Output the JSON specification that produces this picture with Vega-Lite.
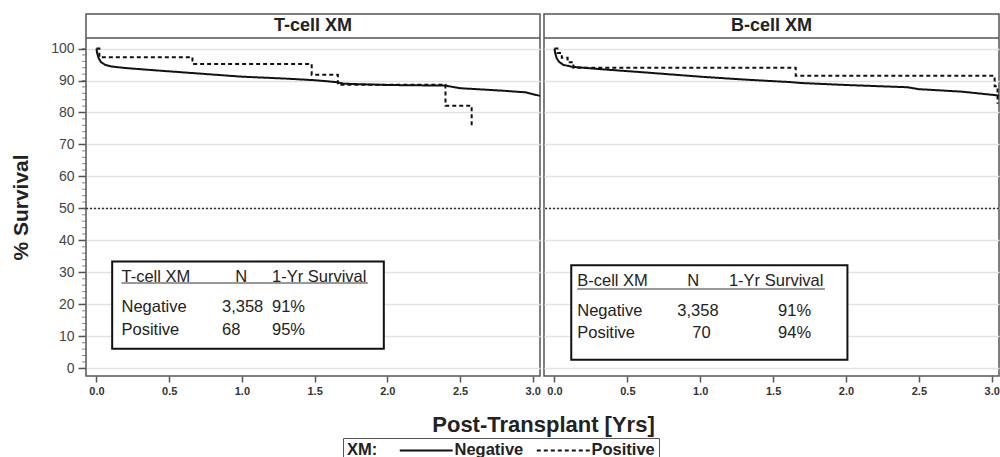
{
  "$schema": "https://vega.github.io/schema/vega-lite/v6.json",
  "background": "white",
  "padding": {"left": 9, "top": 13, "right": 0, "bottom": 0},
  "bounds": "flush",
  "config": {
    "font": "Liberation Sans",
    "view": {"stroke": "#555", "strokeWidth": 1.5},
    "concat": {"spacing": 4},
    "text": {"font": "Liberation Sans", "fontSize": 16.5, "align": "left", "baseline": "middle", "color": "#222"},
    "axis": {"domain": false, "tickColor": "#555", "tickWidth": 1.5, "titleFontWeight": "bold", "titleColor": "#222", "labelOverlap": false},
    "axisX": {"grid": false, "tickSize": 6, "labelFontSize": 11, "labelFontWeight": "bold", "labelColor": "#333", "labelPadding": 3, "titleFontSize": 22, "titleX": 457, "titleY": 48, "titleAlign": "center", "titleBaseline": "middle"},
    "axisY": {"grid": true, "gridColor": "#e3e3e3", "gridWidth": 1.5, "tickSize": 8, "labelFontSize": 14, "labelColor": "#444", "labelPadding": 4, "titleFontSize": 21, "titleX": -65, "titleY": 193, "titleAngle": -90, "titleAlign": "center", "titleBaseline": "middle"}
  },
  "datasets": {
    "panels": [{"panel": "T-cell XM"}, {"panel": "B-cell XM"}],
    "minorTicks": [
      {"v": 0}, {"v": 2}, {"v": 4}, {"v": 6}, {"v": 8}, {"v": 10}, {"v": 12}, {"v": 14}, {"v": 16}, {"v": 18},
      {"v": 20}, {"v": 22}, {"v": 24}, {"v": 26}, {"v": 28}, {"v": 30}, {"v": 32}, {"v": 34}, {"v": 36}, {"v": 38},
      {"v": 40}, {"v": 42}, {"v": 44}, {"v": 46}, {"v": 48}, {"v": 50}, {"v": 52}, {"v": 54}, {"v": 56}, {"v": 58},
      {"v": 60}, {"v": 62}, {"v": 64}, {"v": 66}, {"v": 68}, {"v": 70}, {"v": 72}, {"v": 74}, {"v": 76}, {"v": 78},
      {"v": 80}, {"v": 82}, {"v": 84}, {"v": 86}, {"v": 88}, {"v": 90}, {"v": 92}, {"v": 94}, {"v": 96}, {"v": 98},
      {"v": 100}
    ],
    "cells": [
      {"panel": "T-cell XM", "row": "head", "col": "group", "text": "T-cell XM"},
      {"panel": "T-cell XM", "row": "head", "col": "n", "text": "N"},
      {"panel": "T-cell XM", "row": "head", "col": "surv", "text": "1-Yr Survival"},
      {"panel": "T-cell XM", "row": "Negative", "col": "group", "text": "Negative"},
      {"panel": "T-cell XM", "row": "Negative", "col": "n", "text": "3,358"},
      {"panel": "T-cell XM", "row": "Negative", "col": "surv", "text": "91%"},
      {"panel": "T-cell XM", "row": "Positive", "col": "group", "text": "Positive"},
      {"panel": "T-cell XM", "row": "Positive", "col": "n", "text": "68"},
      {"panel": "T-cell XM", "row": "Positive", "col": "surv", "text": "95%"},
      {"panel": "B-cell XM", "row": "head", "col": "group", "text": "B-cell XM"},
      {"panel": "B-cell XM", "row": "head", "col": "n", "text": "N"},
      {"panel": "B-cell XM", "row": "head", "col": "surv", "text": "1-Yr Survival"},
      {"panel": "B-cell XM", "row": "Negative", "col": "group", "text": "Negative"},
      {"panel": "B-cell XM", "row": "Negative", "col": "n", "text": "3,358"},
      {"panel": "B-cell XM", "row": "Negative", "col": "surv", "text": "91%"},
      {"panel": "B-cell XM", "row": "Positive", "col": "group", "text": "Positive"},
      {"panel": "B-cell XM", "row": "Positive", "col": "n", "text": "70"},
      {"panel": "B-cell XM", "row": "Positive", "col": "surv", "text": "94%"}
    ],
    "curves": [
      {"panel": "T-cell XM", "xm": "Negative", "t": 0, "s": 100},
      {"panel": "T-cell XM", "xm": "Negative", "t": 0.005, "s": 98.5},
      {"panel": "T-cell XM", "xm": "Negative", "t": 0.015, "s": 97},
      {"panel": "T-cell XM", "xm": "Negative", "t": 0.03, "s": 95.8},
      {"panel": "T-cell XM", "xm": "Negative", "t": 0.06, "s": 94.9},
      {"panel": "T-cell XM", "xm": "Negative", "t": 0.1, "s": 94.4},
      {"panel": "T-cell XM", "xm": "Negative", "t": 0.2, "s": 93.9},
      {"panel": "T-cell XM", "xm": "Negative", "t": 0.4, "s": 93.2},
      {"panel": "T-cell XM", "xm": "Negative", "t": 0.7, "s": 92.2},
      {"panel": "T-cell XM", "xm": "Negative", "t": 1.0, "s": 91.2},
      {"panel": "T-cell XM", "xm": "Negative", "t": 1.3, "s": 90.6},
      {"panel": "T-cell XM", "xm": "Negative", "t": 1.5, "s": 90.1},
      {"panel": "T-cell XM", "xm": "Negative", "t": 1.65, "s": 89.5},
      {"panel": "T-cell XM", "xm": "Negative", "t": 1.7, "s": 89.0},
      {"panel": "T-cell XM", "xm": "Negative", "t": 2.0, "s": 88.6},
      {"panel": "T-cell XM", "xm": "Negative", "t": 2.4, "s": 88.4},
      {"panel": "T-cell XM", "xm": "Negative", "t": 2.5, "s": 87.6},
      {"panel": "T-cell XM", "xm": "Negative", "t": 2.8, "s": 86.8},
      {"panel": "T-cell XM", "xm": "Negative", "t": 2.95, "s": 86.3},
      {"panel": "T-cell XM", "xm": "Negative", "t": 3.05, "s": 85.2},
      {"panel": "T-cell XM", "xm": "Positive", "t": 0, "s": 100},
      {"panel": "T-cell XM", "xm": "Positive", "t": 0.02, "s": 97.3},
      {"panel": "T-cell XM", "xm": "Positive", "t": 0.66, "s": 95.2},
      {"panel": "T-cell XM", "xm": "Positive", "t": 1.48, "s": 91.8},
      {"panel": "T-cell XM", "xm": "Positive", "t": 1.66, "s": 88.7},
      {"panel": "T-cell XM", "xm": "Positive", "t": 2.4, "s": 82.1},
      {"panel": "T-cell XM", "xm": "Positive", "t": 2.58, "s": 75.9},
      {"panel": "B-cell XM", "xm": "Negative", "t": 0, "s": 100},
      {"panel": "B-cell XM", "xm": "Negative", "t": 0.005, "s": 98.5},
      {"panel": "B-cell XM", "xm": "Negative", "t": 0.015, "s": 97},
      {"panel": "B-cell XM", "xm": "Negative", "t": 0.03, "s": 95.9},
      {"panel": "B-cell XM", "xm": "Negative", "t": 0.06, "s": 94.9},
      {"panel": "B-cell XM", "xm": "Negative", "t": 0.12, "s": 94.3},
      {"panel": "B-cell XM", "xm": "Negative", "t": 0.3, "s": 93.6},
      {"panel": "B-cell XM", "xm": "Negative", "t": 0.6, "s": 92.6},
      {"panel": "B-cell XM", "xm": "Negative", "t": 1.0, "s": 91.2},
      {"panel": "B-cell XM", "xm": "Negative", "t": 1.3, "s": 90.3},
      {"panel": "B-cell XM", "xm": "Negative", "t": 1.62, "s": 89.5},
      {"panel": "B-cell XM", "xm": "Negative", "t": 1.7, "s": 89.2},
      {"panel": "B-cell XM", "xm": "Negative", "t": 2.0, "s": 88.6},
      {"panel": "B-cell XM", "xm": "Negative", "t": 2.42, "s": 87.9},
      {"panel": "B-cell XM", "xm": "Negative", "t": 2.5, "s": 87.3},
      {"panel": "B-cell XM", "xm": "Negative", "t": 2.8, "s": 86.5},
      {"panel": "B-cell XM", "xm": "Negative", "t": 3.05, "s": 85.3},
      {"panel": "B-cell XM", "xm": "Positive", "t": 0, "s": 100},
      {"panel": "B-cell XM", "xm": "Positive", "t": 0.02, "s": 98.6},
      {"panel": "B-cell XM", "xm": "Positive", "t": 0.05, "s": 97.1},
      {"panel": "B-cell XM", "xm": "Positive", "t": 0.09, "s": 95.7},
      {"panel": "B-cell XM", "xm": "Positive", "t": 0.13, "s": 94.0},
      {"panel": "B-cell XM", "xm": "Positive", "t": 1.655, "s": 91.5},
      {"panel": "B-cell XM", "xm": "Positive", "t": 3.02, "s": 88.2},
      {"panel": "B-cell XM", "xm": "Positive", "t": 3.04, "s": 82.7}
    ]
  },
  "hconcat": [
    {
      "width": 454,
      "height": 362,
      "layer": [
        {
          "data": {"name": "curves"},
          "transform": [{"filter": "datum.panel === 'T-cell XM' && datum.xm === 'Negative'"}],
          "mark": {"type": "line", "color": "#111", "strokeWidth": 2},
          "encoding": {
            "x": {"field": "t", "type": "quantitative", "scale": {"domain": [-0.072, 3.05], "nice": false, "zero": false},
                  "axis": {"title": "Post-Transplant [Yrs]", "values": [0, 0.5, 1, 1.5, 2, 2.5, 3], "format": ".1f"}},
            "y": {"field": "s", "type": "quantitative", "scale": {"domain": [-2.4, 110.8], "nice": false, "zero": false},
                  "axis": {"title": "% Survival", "values": [0, 10, 20, 30, 40, 50, 60, 70, 80, 90, 100]}},
            "strokeDash": {
              "field": "xm", "type": "nominal",
              "scale": {"domain": ["Negative", "Positive"], "range": [[1, 0], [4, 3]]},
              "legend": {
                "title": "XM:", "orient": "none", "legendX": 257, "legendY": 424, "direction": "horizontal",
                "titleOrient": "left", "symbolType": "M-5,0H5", "symbolSize": 112, "symbolStrokeWidth": 2,
                "symbolStrokeColor": "#111", "labelFontSize": 16.5, "labelFontWeight": "bold", "labelColor": "#222",
                "titleFontSize": 16.5, "titleFontWeight": "bold", "titleColor": "#222",
                "strokeColor": "#555", "padding": 4, "columnPadding": 8, "labelOffset": 20, "titlePadding": 40
              }
            }
          }
        },
        {
          "data": {"name": "curves"},
          "transform": [{"filter": "datum.panel === 'T-cell XM' && datum.xm === 'Positive'"}],
          "mark": {"type": "line", "interpolate": "step-after", "color": "#111", "strokeWidth": 2},
          "encoding": {
            "x": {"field": "t", "type": "quantitative", "axis": {"title": "Post-Transplant [Yrs]", "values": [0, 0.5, 1, 1.5, 2, 2.5, 3], "format": ".1f"}},
            "y": {"field": "s", "type": "quantitative", "axis": {"title": "% Survival", "values": [0, 10, 20, 30, 40, 50, 60, 70, 80, 90, 100]}},
            "strokeDash": {"field": "xm", "type": "nominal"}
          }
        },
        {
          "data": {"name": "minorTicks"},
          "mark": {"type": "tick", "orient": "horizontal", "size": 4, "thickness": 1, "color": "#555"},
          "encoding": {
            "x": {"datum": -0.086, "type": "quantitative", "axis": {"title": "Post-Transplant [Yrs]", "values": [0, 0.5, 1, 1.5, 2, 2.5, 3], "format": ".1f"}},
            "y": {"field": "v", "type": "quantitative", "axis": {"title": "% Survival", "values": [0, 10, 20, 30, 40, 50, 60, 70, 80, 90, 100]}}
          }
        },
        {
          "data": {"name": "panels"},
          "transform": [{"filter": "datum.panel === 'T-cell XM'"}],
          "mark": {"type": "rule", "color": "#333", "strokeDash": [2, 2], "strokeWidth": 1.5},
          "encoding": {"y": {"datum": 50, "type": "quantitative", "axis": {"title": "% Survival", "values": [0, 10, 20, 30, 40, 50, 60, 70, 80, 90, 100]}}}
        },
        {
          "data": {"name": "panels"},
          "transform": [{"filter": "datum.panel === 'T-cell XM'"}],
          "mark": {"type": "rule", "color": "#555", "strokeWidth": 1.5},
          "encoding": {"y": {"datum": 103.3, "type": "quantitative", "axis": {"title": "% Survival", "values": [0, 10, 20, 30, 40, 50, 60, 70, 80, 90, 100]}}}
        },
        {
          "data": {"name": "panels"},
          "transform": [{"filter": "datum.panel === 'T-cell XM'"}],
          "mark": {"type": "text", "align": "center", "fontSize": 18, "fontWeight": "bold"},
          "encoding": {
            "x": {"datum": 1.489, "type": "quantitative", "axis": {"title": "Post-Transplant [Yrs]", "values": [0, 0.5, 1, 1.5, 2, 2.5, 3], "format": ".1f"}},
            "y": {"datum": 107, "type": "quantitative", "axis": {"title": "% Survival", "values": [0, 10, 20, 30, 40, 50, 60, 70, 80, 90, 100]}},
            "text": {"field": "panel"}
          }
        },
        {
          "data": {"name": "panels"},
          "transform": [{"filter": "datum.panel === 'T-cell XM'"}],
          "mark": {"type": "rect", "fill": "white", "stroke": "#111", "strokeWidth": 2},
          "encoding": {
            "x": {"datum": 0.108, "type": "quantitative", "axis": {"title": "Post-Transplant [Yrs]", "values": [0, 0.5, 1, 1.5, 2, 2.5, 3], "format": ".1f"}},
            "x2": {"datum": 1.976},
            "y": {"datum": 33.4, "type": "quantitative", "axis": {"title": "% Survival", "values": [0, 10, 20, 30, 40, 50, 60, 70, 80, 90, 100]}},
            "y2": {"datum": 6.1}
          }
        },
        {
          "data": {"name": "panels"},
          "transform": [{"filter": "datum.panel === 'T-cell XM'"}],
          "mark": {"type": "rule", "color": "#777", "strokeWidth": 1.5},
          "encoding": {
            "x": {"datum": 0.172, "type": "quantitative", "axis": {"title": "Post-Transplant [Yrs]", "values": [0, 0.5, 1, 1.5, 2, 2.5, 3], "format": ".1f"}},
            "x2": {"datum": 1.866},
            "y": {"datum": 26.65, "type": "quantitative", "axis": {"title": "% Survival", "values": [0, 10, 20, 30, 40, 50, 60, 70, 80, 90, 100]}}
          }
        },
        {"data": {"name": "cells"}, "transform": [{"filter": "datum.panel === 'T-cell XM' && datum.row === 'head' && datum.col === 'group'"}], "mark": "text",
         "encoding": {"x": {"datum": 0.172, "type": "quantitative", "axis": {"title": "Post-Transplant [Yrs]", "values": [0, 0.5, 1, 1.5, 2, 2.5, 3], "format": ".1f"}}, "y": {"datum": 28.7, "type": "quantitative", "axis": {"title": "% Survival", "values": [0, 10, 20, 30, 40, 50, 60, 70, 80, 90, 100]}}, "text": {"field": "text"}}},
        {"data": {"name": "cells"}, "transform": [{"filter": "datum.panel === 'T-cell XM' && datum.row === 'head' && datum.col === 'n'"}], "mark": "text",
         "encoding": {"x": {"datum": 0.955, "type": "quantitative", "axis": {"title": "Post-Transplant [Yrs]", "values": [0, 0.5, 1, 1.5, 2, 2.5, 3], "format": ".1f"}}, "y": {"datum": 28.7, "type": "quantitative", "axis": {"title": "% Survival", "values": [0, 10, 20, 30, 40, 50, 60, 70, 80, 90, 100]}}, "text": {"field": "text"}}},
        {"data": {"name": "cells"}, "transform": [{"filter": "datum.panel === 'T-cell XM' && datum.row === 'head' && datum.col === 'surv'"}], "mark": "text",
         "encoding": {"x": {"datum": 1.207, "type": "quantitative", "axis": {"title": "Post-Transplant [Yrs]", "values": [0, 0.5, 1, 1.5, 2, 2.5, 3], "format": ".1f"}}, "y": {"datum": 28.7, "type": "quantitative", "axis": {"title": "% Survival", "values": [0, 10, 20, 30, 40, 50, 60, 70, 80, 90, 100]}}, "text": {"field": "text"}}},
        {"data": {"name": "cells"}, "transform": [{"filter": "datum.panel === 'T-cell XM' && datum.row === 'Negative' && datum.col === 'group'"}], "mark": "text",
         "encoding": {"x": {"datum": 0.172, "type": "quantitative", "axis": {"title": "Post-Transplant [Yrs]", "values": [0, 0.5, 1, 1.5, 2, 2.5, 3], "format": ".1f"}}, "y": {"datum": 19.1, "type": "quantitative", "axis": {"title": "% Survival", "values": [0, 10, 20, 30, 40, 50, 60, 70, 80, 90, 100]}}, "text": {"field": "text"}}},
        {"data": {"name": "cells"}, "transform": [{"filter": "datum.panel === 'T-cell XM' && datum.row === 'Negative' && datum.col === 'n'"}], "mark": "text",
         "encoding": {"x": {"datum": 0.863, "type": "quantitative", "axis": {"title": "Post-Transplant [Yrs]", "values": [0, 0.5, 1, 1.5, 2, 2.5, 3], "format": ".1f"}}, "y": {"datum": 19.1, "type": "quantitative", "axis": {"title": "% Survival", "values": [0, 10, 20, 30, 40, 50, 60, 70, 80, 90, 100]}}, "text": {"field": "text"}}},
        {"data": {"name": "cells"}, "transform": [{"filter": "datum.panel === 'T-cell XM' && datum.row === 'Negative' && datum.col === 'surv'"}], "mark": "text",
         "encoding": {"x": {"datum": 1.207, "type": "quantitative", "axis": {"title": "Post-Transplant [Yrs]", "values": [0, 0.5, 1, 1.5, 2, 2.5, 3], "format": ".1f"}}, "y": {"datum": 19.1, "type": "quantitative", "axis": {"title": "% Survival", "values": [0, 10, 20, 30, 40, 50, 60, 70, 80, 90, 100]}}, "text": {"field": "text"}}},
        {"data": {"name": "cells"}, "transform": [{"filter": "datum.panel === 'T-cell XM' && datum.row === 'Positive' && datum.col === 'group'"}], "mark": "text",
         "encoding": {"x": {"datum": 0.172, "type": "quantitative", "axis": {"title": "Post-Transplant [Yrs]", "values": [0, 0.5, 1, 1.5, 2, 2.5, 3], "format": ".1f"}}, "y": {"datum": 12.0, "type": "quantitative", "axis": {"title": "% Survival", "values": [0, 10, 20, 30, 40, 50, 60, 70, 80, 90, 100]}}, "text": {"field": "text"}}},
        {"data": {"name": "cells"}, "transform": [{"filter": "datum.panel === 'T-cell XM' && datum.row === 'Positive' && datum.col === 'n'"}], "mark": "text",
         "encoding": {"x": {"datum": 0.863, "type": "quantitative", "axis": {"title": "Post-Transplant [Yrs]", "values": [0, 0.5, 1, 1.5, 2, 2.5, 3], "format": ".1f"}}, "y": {"datum": 12.0, "type": "quantitative", "axis": {"title": "% Survival", "values": [0, 10, 20, 30, 40, 50, 60, 70, 80, 90, 100]}}, "text": {"field": "text"}}},
        {"data": {"name": "cells"}, "transform": [{"filter": "datum.panel === 'T-cell XM' && datum.row === 'Positive' && datum.col === 'surv'"}], "mark": "text",
         "encoding": {"x": {"datum": 1.207, "type": "quantitative", "axis": {"title": "Post-Transplant [Yrs]", "values": [0, 0.5, 1, 1.5, 2, 2.5, 3], "format": ".1f"}}, "y": {"datum": 12.0, "type": "quantitative", "axis": {"title": "% Survival", "values": [0, 10, 20, 30, 40, 50, 60, 70, 80, 90, 100]}}, "text": {"field": "text"}}}
      ]
    },
    {
      "width": 455,
      "height": 362,
      "layer": [
        {
          "data": {"name": "curves"},
          "transform": [{"filter": "datum.panel === 'B-cell XM' && datum.xm === 'Negative'"}],
          "mark": {"type": "line", "color": "#111", "strokeWidth": 2},
          "encoding": {
            "x": {"field": "t", "type": "quantitative", "scale": {"domain": [-0.072, 3.05], "nice": false, "zero": false},
                  "axis": {"title": null, "values": [0, 0.5, 1, 1.5, 2, 2.5, 3], "format": ".1f"}},
            "y": {"field": "s", "type": "quantitative", "scale": {"domain": [-2.4, 110.8], "nice": false, "zero": false},
                  "axis": {"title": null, "values": [0, 10, 20, 30, 40, 50, 60, 70, 80, 90, 100], "labels": false, "ticks": false}},
            "strokeDash": {"field": "xm", "type": "nominal"}
          }
        },
        {
          "data": {"name": "curves"},
          "transform": [{"filter": "datum.panel === 'B-cell XM' && datum.xm === 'Positive'"}],
          "mark": {"type": "line", "interpolate": "step-after", "color": "#111", "strokeWidth": 2},
          "encoding": {
            "x": {"field": "t", "type": "quantitative", "axis": {"title": null, "values": [0, 0.5, 1, 1.5, 2, 2.5, 3], "format": ".1f"}},
            "y": {"field": "s", "type": "quantitative", "axis": {"title": null, "values": [0, 10, 20, 30, 40, 50, 60, 70, 80, 90, 100], "labels": false, "ticks": false}},
            "strokeDash": {"field": "xm", "type": "nominal"}
          }
        },
        {
          "data": {"name": "panels"},
          "transform": [{"filter": "datum.panel === 'B-cell XM'"}],
          "mark": {"type": "rule", "color": "#333", "strokeDash": [2, 2], "strokeWidth": 1.5},
          "encoding": {"y": {"datum": 50, "type": "quantitative", "axis": {"title": null, "values": [0, 10, 20, 30, 40, 50, 60, 70, 80, 90, 100], "labels": false, "ticks": false}}}
        },
        {
          "data": {"name": "panels"},
          "transform": [{"filter": "datum.panel === 'B-cell XM'"}],
          "mark": {"type": "rule", "color": "#555", "strokeWidth": 1.5},
          "encoding": {"y": {"datum": 103.3, "type": "quantitative", "axis": {"title": null, "values": [0, 10, 20, 30, 40, 50, 60, 70, 80, 90, 100], "labels": false, "ticks": false}}}
        },
        {
          "data": {"name": "panels"},
          "transform": [{"filter": "datum.panel === 'B-cell XM'"}],
          "mark": {"type": "text", "align": "center", "fontSize": 18, "fontWeight": "bold"},
          "encoding": {
            "x": {"datum": 1.489, "type": "quantitative", "axis": {"title": null, "values": [0, 0.5, 1, 1.5, 2, 2.5, 3], "format": ".1f"}},
            "y": {"datum": 107, "type": "quantitative", "axis": {"title": null, "values": [0, 10, 20, 30, 40, 50, 60, 70, 80, 90, 100], "labels": false, "ticks": false}},
            "text": {"field": "panel"}
          }
        },
        {
          "data": {"name": "panels"},
          "transform": [{"filter": "datum.panel === 'B-cell XM'"}],
          "mark": {"type": "rect", "fill": "white", "stroke": "#111", "strokeWidth": 2},
          "encoding": {
            "x": {"datum": 0.115, "type": "quantitative", "axis": {"title": null, "values": [0, 0.5, 1, 1.5, 2, 2.5, 3], "format": ".1f"}},
            "x2": {"datum": 2.01},
            "y": {"datum": 32.2, "type": "quantitative", "axis": {"title": null, "values": [0, 10, 20, 30, 40, 50, 60, 70, 80, 90, 100], "labels": false, "ticks": false}},
            "y2": {"datum": 2.66}
          }
        },
        {
          "data": {"name": "panels"},
          "transform": [{"filter": "datum.panel === 'B-cell XM'"}],
          "mark": {"type": "rule", "color": "#777", "strokeWidth": 1.5},
          "encoding": {
            "x": {"datum": 0.156, "type": "quantitative", "axis": {"title": null, "values": [0, 0.5, 1, 1.5, 2, 2.5, 3], "format": ".1f"}},
            "x2": {"datum": 1.855},
            "y": {"datum": 24.8, "type": "quantitative", "axis": {"title": null, "values": [0, 10, 20, 30, 40, 50, 60, 70, 80, 90, 100], "labels": false, "ticks": false}}
          }
        },
        {"data": {"name": "cells"}, "transform": [{"filter": "datum.panel === 'B-cell XM' && datum.row === 'head' && datum.col === 'group'"}], "mark": "text",
         "encoding": {"x": {"datum": 0.156, "type": "quantitative", "axis": {"title": null, "values": [0, 0.5, 1, 1.5, 2, 2.5, 3], "format": ".1f"}}, "y": {"datum": 27.2, "type": "quantitative", "axis": {"title": null, "values": [0, 10, 20, 30, 40, 50, 60, 70, 80, 90, 100], "labels": false, "ticks": false}}, "text": {"field": "text"}}},
        {"data": {"name": "cells"}, "transform": [{"filter": "datum.panel === 'B-cell XM' && datum.row === 'head' && datum.col === 'n'"}], "mark": "text",
         "encoding": {"x": {"datum": 0.911, "type": "quantitative", "axis": {"title": null, "values": [0, 0.5, 1, 1.5, 2, 2.5, 3], "format": ".1f"}}, "y": {"datum": 27.2, "type": "quantitative", "axis": {"title": null, "values": [0, 10, 20, 30, 40, 50, 60, 70, 80, 90, 100], "labels": false, "ticks": false}}, "text": {"field": "text"}}},
        {"data": {"name": "cells"}, "transform": [{"filter": "datum.panel === 'B-cell XM' && datum.row === 'head' && datum.col === 'surv'"}], "mark": "text",
         "encoding": {"x": {"datum": 1.197, "type": "quantitative", "axis": {"title": null, "values": [0, 0.5, 1, 1.5, 2, 2.5, 3], "format": ".1f"}}, "y": {"datum": 27.2, "type": "quantitative", "axis": {"title": null, "values": [0, 10, 20, 30, 40, 50, 60, 70, 80, 90, 100], "labels": false, "ticks": false}}, "text": {"field": "text"}}},
        {"data": {"name": "cells"}, "transform": [{"filter": "datum.panel === 'B-cell XM' && datum.row === 'Negative' && datum.col === 'group'"}], "mark": "text",
         "encoding": {"x": {"datum": 0.156, "type": "quantitative", "axis": {"title": null, "values": [0, 0.5, 1, 1.5, 2, 2.5, 3], "format": ".1f"}}, "y": {"datum": 17.8, "type": "quantitative", "axis": {"title": null, "values": [0, 10, 20, 30, 40, 50, 60, 70, 80, 90, 100], "labels": false, "ticks": false}}, "text": {"field": "text"}}},
        {"data": {"name": "cells"}, "transform": [{"filter": "datum.panel === 'B-cell XM' && datum.row === 'Negative' && datum.col === 'n'"}], "mark": "text",
         "encoding": {"x": {"datum": 0.843, "type": "quantitative", "axis": {"title": null, "values": [0, 0.5, 1, 1.5, 2, 2.5, 3], "format": ".1f"}}, "y": {"datum": 17.8, "type": "quantitative", "axis": {"title": null, "values": [0, 10, 20, 30, 40, 50, 60, 70, 80, 90, 100], "labels": false, "ticks": false}}, "text": {"field": "text"}}},
        {"data": {"name": "cells"}, "transform": [{"filter": "datum.panel === 'B-cell XM' && datum.row === 'Negative' && datum.col === 'surv'"}], "mark": "text",
         "encoding": {"x": {"datum": 1.534, "type": "quantitative", "axis": {"title": null, "values": [0, 0.5, 1, 1.5, 2, 2.5, 3], "format": ".1f"}}, "y": {"datum": 17.8, "type": "quantitative", "axis": {"title": null, "values": [0, 10, 20, 30, 40, 50, 60, 70, 80, 90, 100], "labels": false, "ticks": false}}, "text": {"field": "text"}}},
        {"data": {"name": "cells"}, "transform": [{"filter": "datum.panel === 'B-cell XM' && datum.row === 'Positive' && datum.col === 'group'"}], "mark": "text",
         "encoding": {"x": {"datum": 0.156, "type": "quantitative", "axis": {"title": null, "values": [0, 0.5, 1, 1.5, 2, 2.5, 3], "format": ".1f"}}, "y": {"datum": 11.0, "type": "quantitative", "axis": {"title": null, "values": [0, 10, 20, 30, 40, 50, 60, 70, 80, 90, 100], "labels": false, "ticks": false}}, "text": {"field": "text"}}},
        {"data": {"name": "cells"}, "transform": [{"filter": "datum.panel === 'B-cell XM' && datum.row === 'Positive' && datum.col === 'n'"}], "mark": "text",
         "encoding": {"x": {"datum": 0.946, "type": "quantitative", "axis": {"title": null, "values": [0, 0.5, 1, 1.5, 2, 2.5, 3], "format": ".1f"}}, "y": {"datum": 11.0, "type": "quantitative", "axis": {"title": null, "values": [0, 10, 20, 30, 40, 50, 60, 70, 80, 90, 100], "labels": false, "ticks": false}}, "text": {"field": "text"}}},
        {"data": {"name": "cells"}, "transform": [{"filter": "datum.panel === 'B-cell XM' && datum.row === 'Positive' && datum.col === 'surv'"}], "mark": "text",
         "encoding": {"x": {"datum": 1.534, "type": "quantitative", "axis": {"title": null, "values": [0, 0.5, 1, 1.5, 2, 2.5, 3], "format": ".1f"}}, "y": {"datum": 11.0, "type": "quantitative", "axis": {"title": null, "values": [0, 10, 20, 30, 40, 50, 60, 70, 80, 90, 100], "labels": false, "ticks": false}}, "text": {"field": "text"}}}
      ]
    }
  ]
}
